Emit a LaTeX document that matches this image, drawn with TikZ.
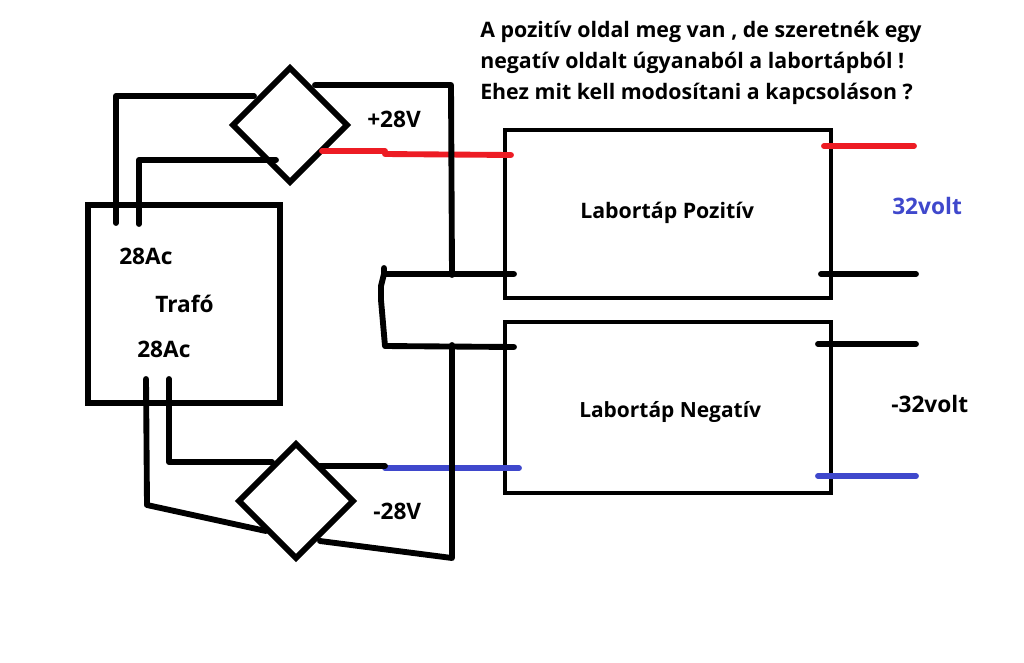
\documentclass[tikz,border=0pt]{standalone}
\usepackage{fontspec}
\setmainfont{Open Sans}
\definecolor{myred}{RGB}{237,28,36}
\definecolor{myblue}{RGB}{63,72,204}
\tikzset{
 wire/.style={line width=4.4pt,black,line cap=round,line join=round},
 redw/.style={line width=4.4pt,myred,line cap=round},
 bluew/.style={line width=4.4pt,myblue,line cap=round},
 diam/.style={line width=4.4pt,black,line join=miter},
 boxs/.style={draw=black,line width=3pt,fill=none},
 lbl/.style={font=\fontsize{16}{19}\selectfont\bfseries,text=black,inner sep=0pt},
 lblb/.style={lbl,font=\fontsize{17}{20}\selectfont\bfseries},
}
\begin{document}
\begin{tikzpicture}[x=0.75pt,y=-0.75pt]
\useasboundingbox (0,0) rectangle (1024,662);
\fill[white] (0,0) rectangle (1024,662);
% coordinates
\coordinate (tl) at (88,205);\coordinate (tr) at (280,403);
\coordinate (p1) at (505,130);\coordinate (p2) at (831,298);
\coordinate (n1) at (505,322);\coordinate (n2) at (831,493);
\draw[boxs,line width=4pt] (tl) rectangle (tr);
\draw[boxs] (p1) rectangle (p2);
\draw[boxs] (n1) rectangle (n2);
% diamonds
\coordinate (dt) at (290,68);\coordinate (dl) at (233,125);\coordinate (db) at (290,182);\coordinate (dr) at (347,125);
\draw[diam] (dt)--(dr)--(db)--(dl)--cycle;
\coordinate (et) at (296,444);\coordinate (el) at (239,501);\coordinate (eb) at (296,558);\coordinate (er) at (353,501);
\draw[diam] (et)--(er)--(eb)--(el)--cycle;
% top wires
\coordinate (a1) at (116,223);\coordinate (a2) at (116,96);\coordinate (a3) at (254,96);
\draw[wire] (a1)--(a2)--(a3);
\coordinate (b1) at (139,224);\coordinate (b2) at (139,160);\coordinate (b3) at (276,160);
\draw[wire] (b1)--(b2)--(b3);
% coloured wires run under the vertical black wires
\coordinate (r1) at (322,151);\coordinate (r2) at (385,151);\coordinate (r2b) at (385,154);\coordinate (r3) at (511,155);
\draw[redw] (r1)--(r2);
\draw[redw] (r2b)--(r3);
\coordinate (g1) at (320,466);\coordinate (g2) at (385,466);
\coordinate (g2b) at (385,468);\coordinate (g3) at (519,468);
\draw[bluew] (g2b)--(g3);
\draw[wire] (g1)--(g2);
\coordinate (c1) at (315,85);\coordinate (c2) at (451,85);\coordinate (c3) at (452,275);
\draw[wire] (c1)--(c2)--(c3);
% centre link
\coordinate (m0) at (384,268);\coordinate (m1) at (514,274);\coordinate (m2) at (384,274);\coordinate (m3) at (381,286);\coordinate (m3b) at (381,300);\coordinate (m4) at (385,346);\coordinate (m5) at (514,347);
\draw[wire] (m1)--(m2)--(m0)--(m2)--(m3)--(m3b)--(m4)--(m5);
% lower wires
\coordinate (d1) at (169,379);\coordinate (d2) at (169,462);\coordinate (d3) at (272,462);
\draw[wire] (d1)--(d2)--(d3);
\coordinate (e1) at (146,379);\coordinate (e2) at (147,505);\coordinate (e3) at (266,531);
\draw[wire] (e1)--(e2)--(e3);
\coordinate (f1) at (320,541);\coordinate (f2) at (452,558);\coordinate (f3) at (452,345);
\draw[wire] (f1)--(f2)--(f3);
% right stubs
\coordinate (s1) at (824,146);\coordinate (s2) at (914,146);
\draw[redw] (s1)--(s2);
\coordinate (s3) at (821,274);\coordinate (s4) at (916,274);
\draw[wire] (s3)--(s4);
\coordinate (s5) at (818,344);\coordinate (s6) at (916,344);
\draw[wire] (s5)--(s6);
\coordinate (s7) at (818,476);\coordinate (s8) at (916,476);
\draw[bluew] (s7)--(s8);
% labels
\node[lbl,anchor=west] (t1) at (480,32) {A pozitív oldal meg van , de szeretnék egy};
\node[lbl,anchor=west] (t2) at (480,63) {negatív oldalt úgyanaból a labortápból !};
\node[lbl,anchor=west] (t3) at (480,94) {Ehez mit kell modosítani a kapcsoláson ?};
\node[lblb,anchor=west] (v1) at (367,119) {+28V};
\node[lblb,anchor=west] (v2) at (373,511) {-28V};
\node[lblb,anchor=west] (ac1) at (119,256) {28Ac};
\node[lblb,anchor=west] (tf) at (155,304) {Trafó};
\node[lblb,anchor=west] (ac2) at (137,349) {28Ac};
\node[lbl,anchor=west] (lp) at (580,213) {Labortáp Pozitív};
\node[lbl,anchor=west,font=\fontsize{15.7}{19}\selectfont\bfseries] (ln) at (579,412) {Labortáp~Negatív};
\node[lblb,anchor=west,text=myblue] (o1) at (892,206) {32volt};
\node[lblb,anchor=west] (o2) at (891,404) {-32volt};
\end{tikzpicture}
\end{document}
